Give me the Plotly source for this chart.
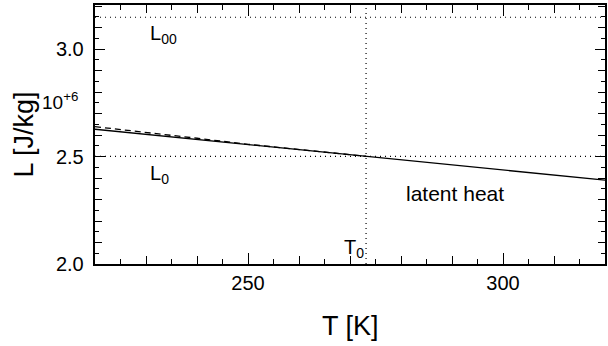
import plotly.graph_objects as go

# ---- data ----
T_solid = [220.0, 273.15, 320.0]
L_solid = [2.627e6, 2.501e6, 2.390e6]

T_dash = [220.0, 230.0, 240.0, 250.0, 260.0, 273.15]
L_dash = [2.639e6, 2.613e6, 2.585e6, 2.557e6, 2.532e6, 2.501e6]

L00 = 3.148e6
L0 = 2.501e6
T0 = 273.15

x_range = [220, 320]
y_range = [2.0e6, 3.205e6]
x_major = [250, 300]
x_major_text = ["250", "300"]
x_medium = list(range(220, 321, 10))
y_major = [2.0e6, 2.5e6, 3.0e6]
y_major_text = ["2.0", "2.5", "3.0"]
y_medium = [2.0e6 + 0.1e6 * i for i in range(13)]

FONT = "Liberation Sans, Arial, Helvetica, sans-serif"

fig = go.Figure()

fig.add_trace(go.Scatter(x=T_dash, y=L_dash, mode="lines",
                         line=dict(color="black", width=1.3, dash="6px,4px"),
                         xaxis="x", yaxis="y", hoverinfo="skip", showlegend=False))
fig.add_trace(go.Scatter(x=T_solid, y=L_solid, mode="lines",
                         line=dict(color="black", width=1.3),
                         xaxis="x2", yaxis="y", hoverinfo="skip", showlegend=False))
# vertical T0 marker line (dotted), drawn on the overlay y-axis
fig.add_trace(go.Scatter(x=[T0, T0], y=y_range, mode="lines",
                         line=dict(color="black", width=1.2, dash="1px,4px"),
                         xaxis="x", yaxis="y2", hoverinfo="skip", showlegend=False))

dot = "1px,4px"
fig.add_hline(y=L00, line=dict(color="black", width=1.2, dash=dot))
fig.add_hline(y=L0, line=dict(color="black", width=1.2, dash=dot))

common = dict(showgrid=False, zeroline=False, ticks="inside",
              tickcolor="black", tickwidth=1.3)

fig.update_layout(
    width=608, height=346,
    margin=dict(l=95, r=1, t=5, b=82),
    paper_bgcolor="white", plot_bgcolor="white",
    font=dict(family=FONT, size=20, color="black"),
    xaxis=dict(range=x_range, tickvals=x_major, ticktext=x_major_text,
               ticklen=11, showline=True, linecolor="black", linewidth=1.5,
               mirror="ticks", anchor="y",
               minor=dict(dtick=5, tick0=220, ticklen=5, ticks="inside",
                          tickcolor="black", tickwidth=1.1),
               **common),
    xaxis2=dict(range=x_range, overlaying="x", anchor="y", side="bottom",
                tickvals=x_medium, ticklen=8, showticklabels=False,
                showline=False, mirror="ticks", **common),
    yaxis=dict(range=y_range, tickvals=y_major,
               ticktext=[t + "\u00a0" for t in y_major_text],
               ticklen=10, showline=True, linecolor="black", linewidth=1.5,
               mirror="ticks", anchor="x",
               minor=dict(dtick=0.05e6, tick0=2.0e6, ticklen=4, ticks="inside",
                          tickcolor="black", tickwidth=1.1),
               **common),
    yaxis2=dict(range=y_range, overlaying="y", anchor="x", side="left",
                tickvals=y_medium, ticklen=7, showticklabels=False,
                showline=False, mirror="ticks", **common),
)

ann = [
    dict(text="L [J/kg]", x=-0.141, y=0.5, textangle=-90, font=dict(size=27),
         xanchor="center", yanchor="middle"),
    dict(text="T [K]", x=0.5, y=-0.24, font=dict(size=27),
         xanchor="center", yanchor="middle"),
    dict(text="10<sup>+6</sup>", x=-0.108, y=0.63, font=dict(size=19),
         xanchor="left", yanchor="middle"),
    dict(text="L<sub>00</sub>", x=0.1035, y=0.885, xanchor="left", yanchor="middle"),
    dict(text="L<sub>0</sub>", x=0.1035, y=0.345, xanchor="left", yanchor="middle"),
    dict(text="T<sub>0</sub>", x=0.484, y=0.06, xanchor="left", yanchor="middle"),
    dict(text="latent heat", x=0.605, y=0.274, font=dict(size=21),
         xanchor="left", yanchor="middle"),
]
for a in ann:
    a.update(xref="paper", yref="paper", showarrow=False)
    fig.add_annotation(**a)

fig.write_html("out.html")
